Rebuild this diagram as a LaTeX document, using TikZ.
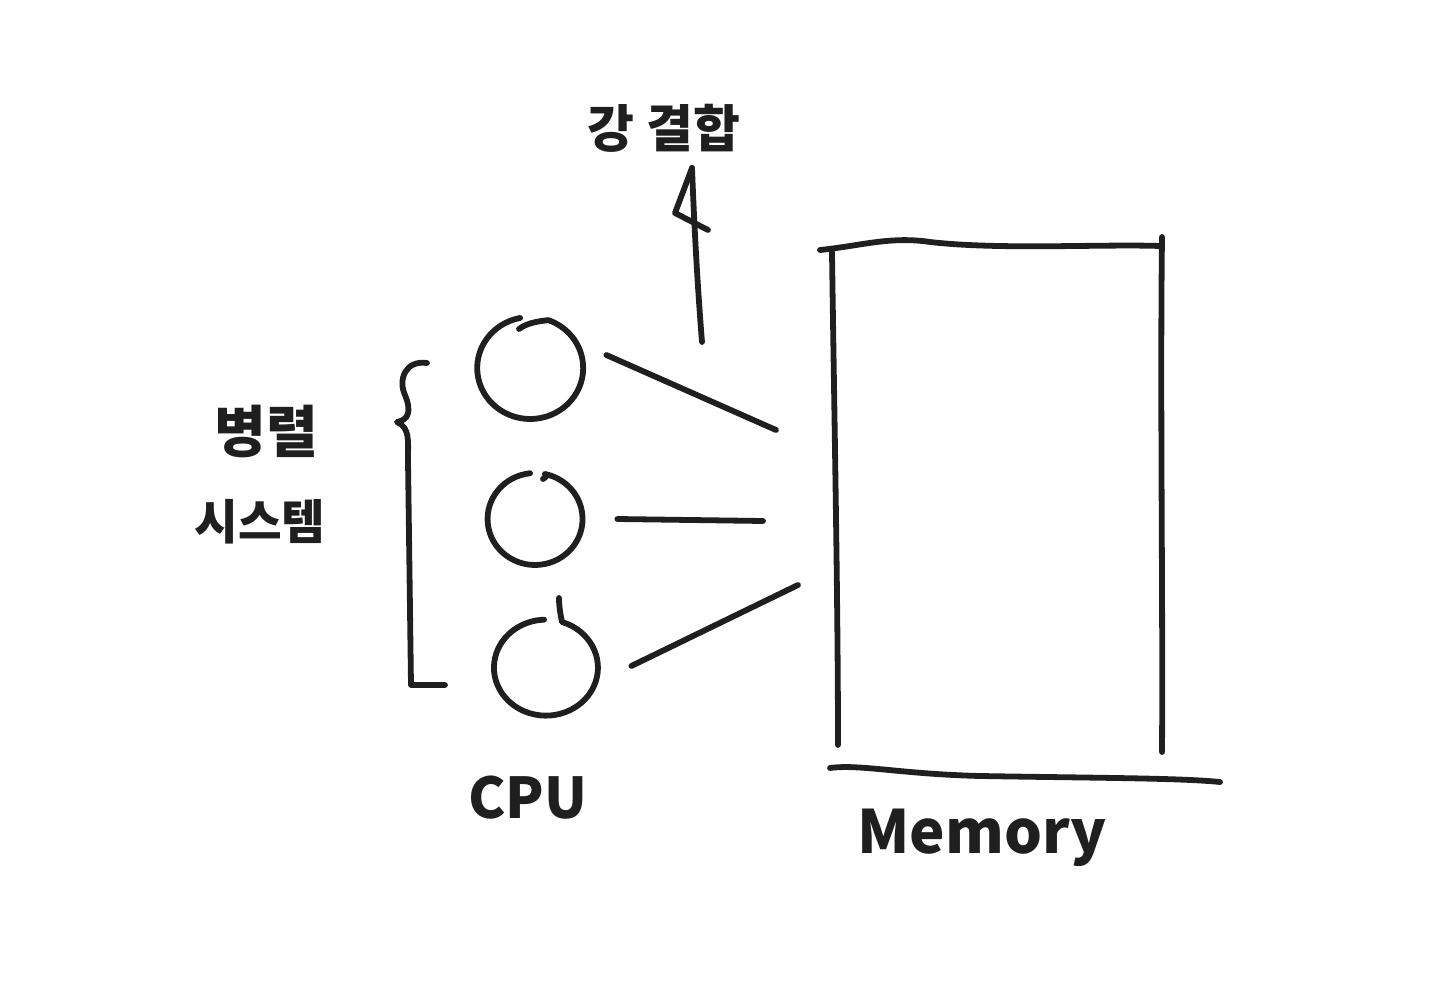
\documentclass[tikz,border=0pt]{standalone}
\usepackage{fontspec}
\setmainfont{Noto Sans CJK KR}
\usetikzlibrary{calc}
\begin{document}
\begin{tikzpicture}[x=0.02cm,y=-0.02cm,
  pen/.style={line width=3.3pt,line cap=round,line join=round,black!88},
  cpu/.style={circle,draw=none,inner sep=0pt},
  lbl/.style={inner sep=0pt,black!88,font=\bfseries}]
\useasboundingbox (0,0) rectangle (1440,1006);
% texts
\node[lbl,font=\bfseries\fontsize{29}{32}\selectfont] (strong) at (664,128) {강 결합};
\node[lbl,font=\bfseries\fontsize{32}{36}\selectfont] (par) at (266,432) {병렬};
\node[lbl,font=\bfseries\fontsize{27}{30}\selectfont] (sys) at (260,522) {시스템};
\node[lbl,font=\bfseries\fontsize{32}{36}\selectfont] (cpulbl) at (528,798) {CPU};
\node[lbl,font=\bfseries\fontsize{34}{38}\selectfont] (memlbl) at (982,838) {Memory};
% CPU circles (hand-drawn, open at the top)
\node[cpu,minimum size=2.08cm] (c1) at (530,369) {};
\node[cpu,minimum size=1.88cm] (c2) at (535,520) {};
\node[cpu,minimum size=2.04cm] (c3) at (545,668) {};
\draw[pen] (c1.center) ++(101:1.04cm) arc[start angle=101,end angle=430,x radius=1.06cm,y radius=1.02cm]
  .. controls (542,321) and (528,322) .. (519,329);
\draw[pen] (c2.center) ++(96:0.94cm) arc[start angle=96,end angle=438,x radius=0.95cm,y radius=0.92cm]
  .. controls (548,475) and (546,477) .. (543,479);
\draw[pen] (559,598) .. controls (559,606) and (560,612) .. (562,622)
  arc[start angle=72,end angle=-268,x radius=1.04cm,y radius=0.96cm];
% memory box
\coordinate (m1) at (776,430);
\coordinate (m2) at (763,521);
\coordinate (m3) at (798,585);
\draw[pen] (820,250) .. controls (860,246) and (890,236) .. (930,242) .. controls (1000,250) and (1100,244) .. (1160,246);
\draw[pen] (1162,237) .. controls (1160,400) and (1163,600) .. (1162,752);
\draw[pen] (832,252) .. controls (834,400) and (838,600) .. (838,745);
\draw[pen] (830,768) .. controls (860,764) and (900,774) .. (980,776) .. controls (1100,778) and (1180,778) .. (1220,782);
% connectors
\draw[pen] ($(c1.east)+(24,-14)$) -- (m1);
\draw[pen] ($(c2.east)+(35,-1)$) -- (m2);
\draw[pen] ($(c3.east)+(35,-2)$) -- (m3);
% arrow up to label
\coordinate (a0) at (702,342);
\coordinate (a1) at (692,168);
\draw[pen] (a0) .. controls (697,280) and (694,220) .. (a1);
\draw[pen] (a1) -- (675,213) -- (708,230);
% brace
\coordinate (b0) at (427,363);
\coordinate (b1) at (445,685);
\draw[pen] (b0) .. controls (405,360) and (398,380) .. (405,395) .. controls (412,412) and (408,420) .. (397,422) .. controls (410,428) and (408,440) .. (408,460) -- (411,685) -- (b1);
\end{tikzpicture}
\end{document}
